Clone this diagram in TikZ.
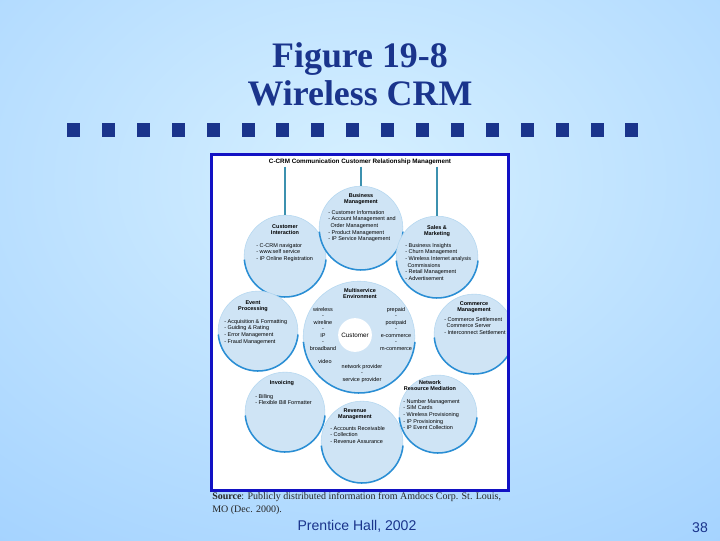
\documentclass[tikz,border=0pt]{standalone}
\usepackage{fontspec}
\setmainfont{Liberation Serif}
\setsansfont{Liberation Sans}
\usetikzlibrary{positioning}

\definecolor{bgdark}{RGB}{153,204,255}
\definecolor{bglight}{RGB}{214,240,255}
\definecolor{navy}{RGB}{26,52,140}
\definecolor{boxblue}{RGB}{18,18,196}
\definecolor{blobfill}{RGB}{207,228,245}
\definecolor{rimblue}{RGB}{42,142,212}
\definecolor{linkteal}{RGB}{60,145,175}

\tikzset{
  blob/.style={circle, fill=blobfill, draw=rimblue!35, line width=0.4pt, inner sep=0pt, outer sep=0pt, minimum size=#1},
  rim/.style={draw=rimblue, line width=1.1pt},
  link/.style={draw=linkteal, line width=0.9pt},
  blobtitle/.style={font=\sffamily\bfseries\fontsize{3.9}{4.75}\selectfont, align=center, anchor=north, inner sep=0pt},
  bloblist/.style={font=\sffamily\fontsize{3.9}{4.75}\selectfont, align=left, anchor=north west, inner sep=0pt},
  msword/.style={font=\sffamily\fontsize{3.9}{4.6}\selectfont, align=center, anchor=north, inner sep=0pt},
}

\begin{document}
\begin{tikzpicture}[x=0.025cm, y=0.025cm]
    % slide background
    \fill[bgdark] (0,0) rectangle (720,-540);
    \begin{scope}
        \clip (0,0) rectangle (720,-540);
        \shade[inner color=bglight, outer color=bgdark] (360,-180) ellipse [x radius=760, y radius=560];
    \end{scope}
    \useasboundingbox (0,0) rectangle (720,-540);

    \node[font=\bfseries\fontsize{25.5}{27}\selectfont, text=navy, align=center] (title) at (360,-74) {Figure 19-8\\Wireless CRM};
    \foreach \i in {0,...,16}
        \fill[navy] ({67+34.9*\i},-123) rectangle ++(13,-14);

    % figure panel
    \fill[white] (210,-153) rectangle (510,-492);
    \begin{scope}
        \clip (212,-155) rectangle (508,-490);
        \foreach \n/\x/\y/\r/\d in {ci/285/256/41/58.1, bm/361/228/42/59.5, sm/437/257/41/58.1,
                                    ep/258/331/40/56.7, ms/359/337/56/79.4, cm/474/334/40/56.7,
                                    iv/285/412/40/56.7, rm/362/442/41/58.1, nr/438/414/39/55.3} {
            \node[blob=\d pt] (\n) at (\x,-\y) {};
            \draw[rim] (\n.185) arc[start angle=185, end angle=355, radius=\r];
        }
    \end{scope}
    \draw[boxblue, line width=2.2pt] (211.5,-154.5) rectangle (508.5,-490.5);

    \node[font=\sffamily\bfseries\fontsize{4.5}{5}\selectfont, inner sep=1pt] (hdr) at (360,-162) {C-CRM Communication Customer Relationship Management};
    \draw[link] (hdr.south -| ci.north) -- (ci.north);
    \draw[link] (hdr.south -| bm.north) -- (bm.north);
    \draw[link] (hdr.south -| sm.north) -- (sm.north);

    \node[blobtitle] (citxt) at (285,-224) {Customer\\Interaction};
    \node[bloblist] (cilist) at (256,-243) {- C-CRM navigator\\- www.self service\\- IP Online Registration};

    \node[blobtitle] (bmtxt) at (361,-193) {Business\\Management};
    \node[bloblist] (bmlist) at (328,-210) {- Customer Information\\- Account Management and\\\hspace*{1.6pt}Order Management\\- Product Management\\- IP Service Management};

    \node[blobtitle] (smtxt) at (437,-225) {Sales \&\\Marketing};
    \node[bloblist] (smlist) at (405,-243) {- Business Insights\\- Churn Management\\- Wireless Internet analysis\\\hspace*{1.6pt}Commissions\\- Retail Management\\- Advertisement};

    \node[blobtitle] (eptxt) at (253,-300) {Event\\Processing};
    \node[bloblist] (eplist) at (224,-319) {- Acquisition \& Formatting\\- Guiding \& Rating\\- Error Management\\- Fraud Management};

    \node[blobtitle] (mstxt) at (360,-288) {Multiservice\\Environment};
    \node[circle, fill=white, minimum size=24pt, inner sep=0pt, font=\sffamily\fontsize{4.5}{5}\selectfont] (cu) at (355,-335) {Customer};
    \node[msword] (msleft) at (323,-307) {wireless\\-\\wireline\\-\\IP\\-\\broadband};
    \node[msword] (msright) at (396,-307) {prepaid\\-\\postpaid\\-\\e-commerce\\-\\m-commerce};
    \node[msword] (msvideo) at (325,-359) {video};
    \node[msword] (msprov) at (362,-364) {network provider\\-\\service provider};

    \node[blobtitle] (cmtxt) at (474,-301) {Commerce\\Management};
    \node[bloblist] (cmlist) at (444,-317) {- Commerce Settlement\\\hspace*{1.6pt}Commerce Server\\- Interconnect Settlement};

    \node[blobtitle] (ivtxt) at (282,-380) {Invoicing};
    \node[bloblist] (ivlist) at (255,-394) {- Billing\\- Flexible Bill Formatter};

    \node[blobtitle] (rmtxt) at (355,-408) {Revenue\\Management};
    \node[bloblist] (rmlist) at (330,-426) {- Accounts Receivable\\- Collection\\- Revenue Assurance};

    \node[blobtitle] (nrtxt) at (430,-380) {Network\\Resource Mediation};
    \node[bloblist] (nrlist) at (403,-399) {- Number Management\\- SIM Cards\\- Wireless Provisioning\\- IP Provisioning\\- IP Event Collection};

    % caption and footer
    \node[anchor=north west, inner sep=0pt, align=left, font=\fontsize{7.1}{9.2}\selectfont, text=black!85] (src) at (212,-492) {\textbf{Source}: Publicly distributed information from Amdocs Corp. St. Louis,\\MO (Dec. 2000).};
    \node[font=\sffamily\fontsize{10}{12}\selectfont, text=navy] (pub) at (357,-526) {Prentice Hall, 2002};
    \node[font=\sffamily\fontsize{10}{12}\selectfont, text=navy] (page) at (700,-528) {38};
\end{tikzpicture}
\end{document}
